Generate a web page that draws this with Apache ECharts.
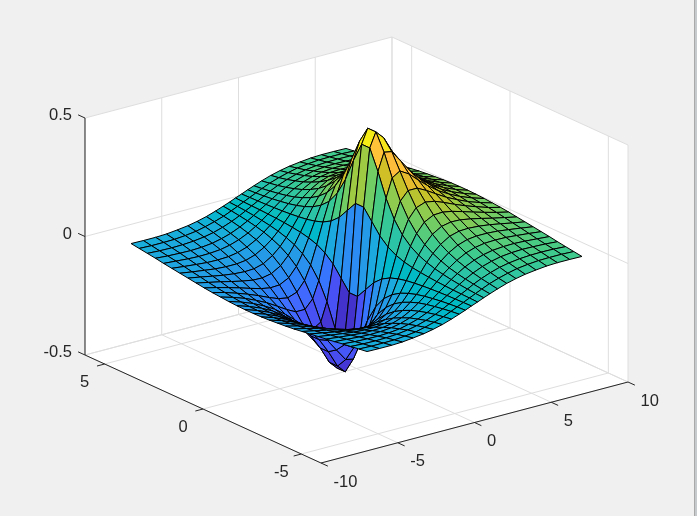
<!DOCTYPE html>
<html>
<head>
<meta charset="utf-8">
<style>
  html, body { margin: 0; padding: 0; height: 100%; background: #c6cacd; overflow: hidden; }
  #chart { width: 694px; height: 516px; border-right: 1px solid #a9a9a9; }
</style>
<script src="https://cdn.jsdelivr.net/npm/echarts@6/dist/echarts.min.js"></script>
</head>
<body>
<div id="chart"></div>
<script>
const xValues = [-7, -6.2, -5.4, -4.7, -4, -3.3, -2.7, -2.1, -1.5, -1, -0.6, -0.2, 0.2, 0.6, 1, 1.5, 2.1, 2.7, 3.3, 4, 4.7, 5.4, 6.2, 7]
const yValues = [-6, -5.586, -5.172, -4.759, -4.345, -3.931, -3.517, -3.103, -2.69, -2.276, -1.862, -1.448, -1.034, -0.621, -0.207, 0.207, 0.621, 1.034, 1.448, 1.862, 2.276, 2.69, 3.103, 3.517, 3.931, 4.345, 4.759, 5.172, 5.586, 6]
// one row per x value, one column per y value
const zValues = [
  [-.081,-.086,-.091,-.096,-.102,-.107,-.112,-.117,-.122,-.127,-.131,-.134,-.137,-.139,-.140,-.140,-.139,-.137,-.134,-.131,-.127,-.122,-.117,-.112,-.107,-.102,-.096,-.091,-.086,-.081],
  [-.082,-.088,-.094,-.100,-.106,-.113,-.120,-.126,-.133,-.139,-.144,-.149,-.153,-.156,-.157,-.157,-.156,-.153,-.149,-.144,-.139,-.133,-.126,-.120,-.113,-.106,-.100,-.094,-.088,-.082],
  [-.082,-.088,-.095,-.102,-.110,-.118,-.127,-.136,-.144,-.153,-.161,-.167,-.173,-.177,-.179,-.179,-.177,-.173,-.167,-.161,-.153,-.144,-.136,-.127,-.118,-.110,-.102,-.095,-.088,-.082],
  [-.080,-.087,-.094,-.103,-.112,-.122,-.133,-.144,-.155,-.166,-.177,-.187,-.195,-.200,-.203,-.203,-.200,-.195,-.187,-.177,-.166,-.155,-.144,-.133,-.122,-.112,-.103,-.094,-.087,-.080],
  [-.075,-.083,-.091,-.101,-.111,-.123,-.136,-.150,-.165,-.180,-.195,-.209,-.221,-.230,-.235,-.235,-.230,-.221,-.209,-.195,-.180,-.165,-.150,-.136,-.123,-.111,-.101,-.091,-.083,-.075],
  [-.069,-.077,-.085,-.096,-.107,-.121,-.136,-.153,-.173,-.193,-.215,-.236,-.255,-.269,-.277,-.277,-.269,-.255,-.236,-.215,-.193,-.173,-.153,-.136,-.121,-.107,-.096,-.085,-.077,-.069],
  [-.061,-.068,-.077,-.087,-.099,-.114,-.131,-.151,-.174,-.200,-.230,-.260,-.288,-.311,-.324,-.324,-.311,-.288,-.260,-.230,-.200,-.174,-.151,-.131,-.114,-.099,-.087,-.077,-.068,-.061],
  [-.051,-.057,-.065,-.075,-.086,-.101,-.118,-.140,-.166,-.198,-.237,-.280,-.324,-.362,-.385,-.385,-.362,-.324,-.280,-.237,-.198,-.166,-.140,-.118,-.101,-.086,-.075,-.065,-.057,-.051],
  [-.038,-.044,-.050,-.058,-.068,-.080,-.096,-.116,-.143,-.178,-.223,-.280,-.347,-.413,-.456,-.456,-.413,-.347,-.280,-.223,-.178,-.143,-.116,-.096,-.080,-.068,-.058,-.050,-.044,-.038],
  [-.026,-.030,-.035,-.041,-.048,-.057,-.070,-.086,-.108,-.139,-.183,-.244,-.326,-.419,-.489,-.489,-.419,-.326,-.244,-.183,-.139,-.108,-.086,-.070,-.057,-.048,-.041,-.035,-.030,-.026],
  [-.016,-.018,-.021,-.025,-.030,-.036,-.044,-.055,-.070,-.092,-.124,-.174,-.247,-.344,-.428,-.428,-.344,-.247,-.174,-.124,-.092,-.070,-.055,-.044,-.036,-.030,-.025,-.021,-.018,-.016],
  [-.005,-.006,-.007,-.008,-.010,-.012,-.015,-.019,-.024,-.032,-.044,-.064,-.095,-.140,-.185,-.185,-.140,-.095,-.064,-.044,-.032,-.024,-.019,-.015,-.012,-.010,-.008,-.007,-.006,-.005],
  [.005,.006,.007,.008,.010,.012,.015,.019,.024,.032,.044,.064,.095,.140,.185,.185,.140,.095,.064,.044,.032,.024,.019,.015,.012,.010,.008,.007,.006,.005],
  [.016,.018,.021,.025,.030,.036,.044,.055,.070,.092,.124,.174,.247,.344,.428,.428,.344,.247,.174,.124,.092,.070,.055,.044,.036,.030,.025,.021,.018,.016],
  [.026,.030,.035,.041,.048,.057,.070,.086,.108,.139,.183,.244,.326,.419,.489,.489,.419,.326,.244,.183,.139,.108,.086,.070,.057,.048,.041,.035,.030,.026],
  [.038,.044,.050,.058,.068,.080,.096,.116,.143,.178,.223,.280,.347,.413,.456,.456,.413,.347,.280,.223,.178,.143,.116,.096,.080,.068,.058,.050,.044,.038],
  [.051,.057,.065,.075,.086,.101,.118,.140,.166,.198,.237,.280,.324,.362,.385,.385,.362,.324,.280,.237,.198,.166,.140,.118,.101,.086,.075,.065,.057,.051],
  [.061,.068,.077,.087,.099,.114,.131,.151,.174,.200,.230,.260,.288,.311,.324,.324,.311,.288,.260,.230,.200,.174,.151,.131,.114,.099,.087,.077,.068,.061],
  [.069,.077,.085,.096,.107,.121,.136,.153,.173,.193,.215,.236,.255,.269,.277,.277,.269,.255,.236,.215,.193,.173,.153,.136,.121,.107,.096,.085,.077,.069],
  [.075,.083,.091,.101,.111,.123,.136,.150,.165,.180,.195,.209,.221,.230,.235,.235,.230,.221,.209,.195,.180,.165,.150,.136,.123,.111,.101,.091,.083,.075],
  [.080,.087,.094,.103,.112,.122,.133,.144,.155,.166,.177,.187,.195,.200,.203,.203,.200,.195,.187,.177,.166,.155,.144,.133,.122,.112,.103,.094,.087,.080],
  [.082,.088,.095,.102,.110,.118,.127,.136,.144,.153,.161,.167,.173,.177,.179,.179,.177,.173,.167,.161,.153,.144,.136,.127,.118,.110,.102,.095,.088,.082],
  [.082,.088,.094,.100,.106,.113,.120,.126,.133,.139,.144,.149,.153,.156,.157,.157,.156,.153,.149,.144,.139,.133,.126,.120,.113,.106,.100,.094,.088,.082],
  [.081,.086,.091,.096,.102,.107,.112,.117,.122,.127,.131,.134,.137,.139,.140,.140,.139,.137,.134,.131,.127,.122,.117,.112,.107,.102,.096,.091,.086,.081]
]
const xTicks = [-10, -5, 0, 5, 10]
const yTicks = [-5, 0, 5]
const zTicks = [-0.5, 0, 0.5]
const xRange = [-10, 10]
const yRange = [-6, 6]
const zRange = [-0.5, 0.5]
const colorRange = [-0.489, 0.489]

// old parula colormap, 64 steps
const parula = [
  [.2422,.1504,.6603],[.2504,.1650,.7076],[.2578,.1818,.7511],[.2647,.1978,.7952],[.2706,.2147,.8364],[.2751,.2342,.8710],[.2783,.2559,.8991],[.2803,.2782,.9221],
  [.2813,.3006,.9414],[.2810,.3228,.9579],[.2795,.3447,.9717],[.2760,.3667,.9829],[.2699,.3892,.9906],[.2602,.4123,.9952],[.2440,.4358,.9988],[.2206,.4603,.9973],
  [.1963,.4847,.9892],[.1834,.5074,.9798],[.1786,.5289,.9682],[.1764,.5499,.9520],[.1687,.5703,.9359],[.1540,.5902,.9218],[.1460,.6091,.9079],[.1380,.6276,.8973],
  [.1248,.6459,.8883],[.1113,.6635,.8763],[.0952,.6798,.8598],[.0689,.6948,.8394],[.0297,.7082,.8163],[.0036,.7203,.7917],[.0067,.7312,.7660],[.0433,.7411,.7394],
  [.0964,.7500,.7120],[.1408,.7584,.6842],[.1717,.7670,.6554],[.1938,.7758,.6251],[.2161,.7843,.5923],[.2470,.7918,.5567],[.2906,.7973,.5188],[.3406,.8008,.4789],
  [.3909,.8029,.4354],[.4456,.8024,.3909],[.5044,.7993,.3480],[.5616,.7942,.3045],[.6174,.7876,.2612],[.6720,.7793,.2227],[.7242,.7698,.1910],[.7738,.7598,.1646],
  [.8203,.7498,.1535],[.8634,.7406,.1596],[.9035,.7330,.1774],[.9393,.7288,.2100],[.9728,.7298,.2394],[.9956,.7434,.2371],[.9970,.7659,.2199],[.9952,.7861,.1737],
  [.9892,.8136,.1518],[.9786,.8421,.1380],[.9666,.8703,.1200],[.9610,.8998,.1050],[.9634,.9301,.0900],[.9684,.9528,.0750],[.9763,.9831,.0538],[.9763,.9831,.0538]
]

function project(x, y, z) {
  return [
    356.5 + 15.35 * x - 19.667 * y,
    250 - 4.05 * x - 9 * y - 237 * z
  ]
}

function zColor(z) {
  const t = (z - colorRange[0]) / (colorRange[1] - colorRange[0])
  const c = parula[Math.min(63, Math.max(0, Math.floor(t * 64)))]
  return 'rgb(' + c.map(v => Math.round(v * 255)).join(',') + ')'
}

// back walls and floor
const panels = [
  [[xRange[0], yRange[1], zRange[1]], [xRange[1], yRange[1], zRange[1]], [xRange[1], yRange[1], zRange[0]], [xRange[0], yRange[1], zRange[0]]],
  [[xRange[1], yRange[1], zRange[1]], [xRange[1], yRange[0], zRange[1]], [xRange[1], yRange[0], zRange[0]], [xRange[1], yRange[1], zRange[0]]],
  [[xRange[0], yRange[1], zRange[0]], [xRange[1], yRange[1], zRange[0]], [xRange[1], yRange[0], zRange[0]], [xRange[0], yRange[0], zRange[0]]]
]

const gridSegs = []
xTicks.forEach(x => {
  gridSegs.push([[x, yRange[1], zRange[0]], [x, yRange[1], zRange[1]]])
  gridSegs.push([[x, yRange[0], zRange[0]], [x, yRange[1], zRange[0]]])
})
yTicks.concat(yRange).forEach(y => {
  gridSegs.push([[xRange[1], y, zRange[0]], [xRange[1], y, zRange[1]]])
  gridSegs.push([[xRange[0], y, zRange[0]], [xRange[1], y, zRange[0]]])
})
zTicks.forEach(z => {
  gridSegs.push([[xRange[0], yRange[1], z], [xRange[1], yRange[1], z]])
  gridSegs.push([[xRange[1], yRange[1], z], [xRange[1], yRange[0], z]])
})

const axisSegs = [
  [[xRange[0], yRange[1], zRange[0]], [xRange[0], yRange[1], zRange[1]]],
  [[xRange[0], yRange[1], zRange[0]], [xRange[0], yRange[0], zRange[0]]],
  [[xRange[0], yRange[0], zRange[0]], [xRange[1], yRange[0], zRange[0]]]
]
// ticks run about 8px outward, along the neighbouring axis direction
xTicks.forEach(x => axisSegs.push([[x, yRange[0], zRange[0]], [x, yRange[0] - 0.35, zRange[0]]]))
yTicks.forEach(y => axisSegs.push([[xRange[0], y, zRange[0]], [xRange[0] - 0.5, y, zRange[0]]]))
zTicks.forEach(z => axisSegs.push([[xRange[0], yRange[1], z], [xRange[0], yRange[1] + 0.35, z]]))

const labels = []
xTicks.forEach(x => labels.push({ text: String(x), at: [x, yRange[0], zRange[0]], dx: 12.5, dy: 19, align: 'left' }))
yTicks.forEach(y => labels.push({ text: String(y), at: [xRange[0], y, zRange[0]], dx: -20, dy: 18, align: 'center' }))
zTicks.forEach(z => labels.push({ text: String(z), at: [xRange[0], yRange[1], z], dx: -13, dy: -2.5, align: 'right' }))

// far corner first so nearer cells cover it
const cells = []
for (let i = xValues.length - 2; i >= 0; i--) {
  for (let j = yValues.length - 2; j >= 0; j--) {
    cells.push([i, j])
  }
}

const chart = echarts.init(document.getElementById('chart'))
const W = chart.getWidth()
const H = chart.getHeight()

function coord(api, p) {
  return api.coord(project(p[0], p[1], p[2]))
}

chart.setOption({
  animation: false,
  backgroundColor: '#f0f0f0',
  grid: { left: 0, right: 0, top: 0, bottom: 0 },
  xAxis: { type: 'value', min: 0, max: W, show: false },
  yAxis: { type: 'value', min: 0, max: H, inverse: true, show: false },
  series: [
    {
      type: 'custom',
      silent: true,
      clip: false,
      data: panels.map((p, i) => [i]),
      renderItem(params, api) {
        return {
          type: 'polygon',
          shape: { points: panels[api.value(0)].map(p => coord(api, p)) },
          style: { fill: '#ffffff' }
        }
      }
    },
    {
      type: 'custom',
      silent: true,
      clip: false,
      data: gridSegs.map((s, i) => [i]),
      renderItem(params, api) {
        const s = gridSegs[api.value(0)]
        const a = coord(api, s[0])
        const b = coord(api, s[1])
        return {
          type: 'line',
          shape: { x1: a[0], y1: a[1], x2: b[0], y2: b[1] },
          style: { stroke: '#dedede', lineWidth: 1 }
        }
      }
    },
    {
      type: 'custom',
      silent: true,
      clip: false,
      data: axisSegs.map((s, i) => [i]),
      renderItem(params, api) {
        const s = axisSegs[api.value(0)]
        const a = coord(api, s[0])
        const b = coord(api, s[1])
        return {
          type: 'line',
          shape: { x1: a[0], y1: a[1], x2: b[0], y2: b[1] },
          style: { stroke: '#262626', lineWidth: 1 }
        }
      }
    },
    {
      type: 'custom',
      silent: true,
      clip: false,
      data: labels.map((l, i) => [i]),
      renderItem(params, api) {
        const l = labels[api.value(0)]
        const a = coord(api, l.at)
        return {
          type: 'text',
          x: a[0] + l.dx,
          y: a[1] + l.dy,
          style: {
            text: l.text,
            fill: '#262626',
            font: '16.5px "Liberation Sans", Arial, sans-serif',
            align: l.align,
            verticalAlign: 'middle'
          }
        }
      }
    },
    {
      type: 'custom',
      silent: true,
      clip: false,
      data: cells,
      renderItem(params, api) {
        const i = api.value(0)
        const j = api.value(1)
        const corners = [[i, j], [i + 1, j], [i + 1, j + 1], [i, j + 1]]
        return {
          type: 'polygon',
          shape: {
            points: corners.map(c => api.coord(project(xValues[c[0]], yValues[c[1]], zValues[c[0]][c[1]])))
          },
          style: { fill: zColor(zValues[i][j]), stroke: '#000000', lineWidth: 1, lineJoin: 'round' }
        }
      }
    }
  ]
})
</script>
</body>
</html>
